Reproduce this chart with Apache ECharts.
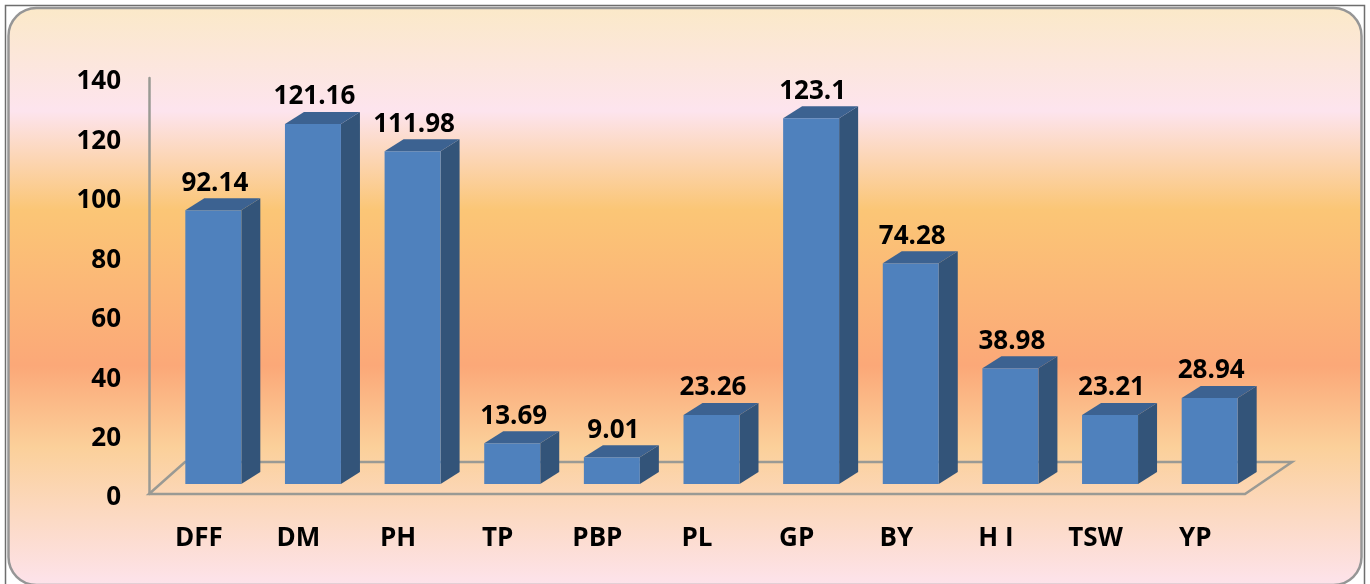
<!DOCTYPE html>
<html><head><meta charset="utf-8">
<style>html,body{margin:0;padding:0;background:#fff}#c{width:1370px;height:584px}</style>
<script src="https://cdn.jsdelivr.net/npm/echarts@6/dist/echarts.min.js"></script>
</head><body><div id="c"></div>
<script>
const categories = ['DFF','DM','PH','TP','PBP','PL','GP','BY','H I','TSW','YP'];
const values = [92.14,121.16,111.98,13.69,9.01,23.26,123.1,74.28,38.98,23.21,28.94];
const yTicks = [0,20,40,60,80,100,120,140];

const FONT = '"Open Sans", "Noto Sans", sans-serif';
const DX = 14.5, DY = 10, DEPTH_X = 19, DEPTH_Y = 12, HALF = 28;
const chart = echarts.init(document.getElementById('c'), null, {renderer:'canvas'});

function poly(points, fill, z2){
  return {type:'polygon', shape:{points}, style:{fill, stroke:null}, z2};
}
function renderFloor(params, api){
  const cs = params.coordSys;
  const x0 = cs.x, x1 = cs.x + cs.width, y = cs.y + cs.height;
  return {type:'group', silent:true, children:[
    {type:'polygon', shape:{points:[[x0,y],[x0+36,y-32],[x1+47,y-32],[x1,y]]},
     style:{fill:null, stroke:'#9a9a94', lineWidth:2.5}}
  ]};
}
function renderBar(params, api){
  const i = api.value(0), v = api.value(1);
  const top = api.coord([i, v]), base = api.coord([i, 0]);
  const l = top[0] + DX - HALF, r = top[0] + DX + HALF;
  const t = top[1] - DY, b = base[1] - DY;
  return {type:'group', children:[
    poly([[l,t],[r,t],[r,b],[l,b]], '#4f81bd', 3),
    poly([[r,t],[r+DEPTH_X,t-DEPTH_Y],[r+DEPTH_X,b-DEPTH_Y],[r,b]], '#335479', 2),
    poly([[l,t],[l+DEPTH_X,t-DEPTH_Y],[r+DEPTH_X,t-DEPTH_Y],[r,t]], '#3c6291', 2),
    {type:'text', z2:5, x:(l+r)/2 + 1.5, y:t-DEPTH_Y-2,
     style:{text:String(values[i]), fill:'#000', font:'bold 26px '+FONT, align:'center', verticalAlign:'bottom'}}
  ]};
}
chart.setOption({
  animation:false,
  backgroundColor:'#fff',
  graphic:[
    {type:'rect', z:-10, silent:true, shape:{x:5.5,y:5.5,width:1359,height:590},
     style:{fill:'#fff', stroke:'#6e6e6e', lineWidth:1.5}},
    {type:'rect', z:-9, silent:true, shape:{x:8.5,y:8,width:1353,height:577,r:[28,28,28,28]},
     style:{stroke:'#969696', lineWidth:2.5,
       fill:new echarts.graphic.LinearGradient(0,0,0,1,[
        {offset:0,color:'#fbe9c8'},{offset:0.18,color:'#fde4ee'},{offset:0.35,color:'#fbc676'},
        {offset:0.62,color:'#fba878'},{offset:0.76,color:'#fbd09a'},{offset:1,color:'#fde3ec'}])}}
  ],
  grid:{left:149, right:125, top:78, bottom:90, containLabel:false},
  xAxis:{type:'category', data:categories, boundaryGap:true,
    axisLine:{show:false}, axisTick:{show:false},
    axisLabel:{margin:32, color:'#000', fontWeight:'bold', fontSize:26, fontFamily:FONT}},
  yAxis:{type:'value', min:0, max:140, interval:20,
    axisLine:{show:true, lineStyle:{color:'#9a9a94', width:2.5}}, axisTick:{show:false}, splitLine:{show:false},
    axisLabel:{margin:28, color:'#000', fontWeight:'bold', fontSize:26, fontFamily:FONT,
      formatter:v => yTicks.includes(v) ? '{t|' + v + '}' : '',
      rich:{t:{color:'#000', fontWeight:'bold', fontSize:26, fontFamily:FONT, padding:[8,0,0,0]}}}},
  series:[
    {type:'custom', z:1, coordinateSystem:'cartesian2d', renderItem:renderFloor, data:[[0,0]], encode:{x:0,y:1}, silent:true},
    {type:'custom', z:2, coordinateSystem:'cartesian2d', renderItem:renderBar,
     data:values.map((v,i)=>[i,v]), encode:{x:0,y:1}}
  ]
});
</script></body></html>
